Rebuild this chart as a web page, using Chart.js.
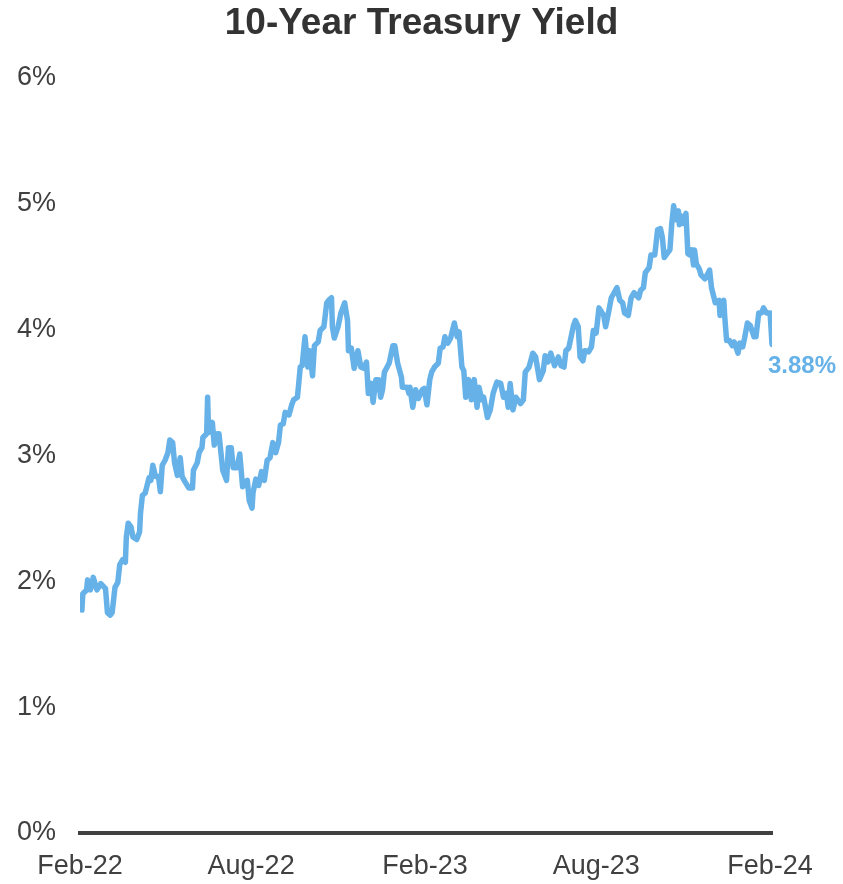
<!DOCTYPE html>
<html>
<head>
<meta charset="utf-8">
<title>10-Year Treasury Yield</title>
<script src="https://cdn.jsdelivr.net/npm/chart.js@4.4.1/dist/chart.umd.min.js"></script>
<style>
	html, body {
		margin: 0;
		padding: 0;
		background: #ffffff;
	}
	#wrap {
		width: 843px;
		height: 884px;
		position: relative;
	}
</style>
</head>
<body>
<div id="wrap"><canvas id="yieldChart"></canvas></div>
<script>
// Days since Feb 1, 2022 and the 10-year yield (%) on those days
const days = [
	2, 3, 7, 8, 11, 14, 18, 22, 27, 29, 32, 34, 37, 40, 42, 45, 48, 49, 51, 54,
	56, 60, 63, 64, 66, 69, 71, 73, 75, 77, 80, 83, 85, 87, 90, 93, 95, 98, 100, 103,
	106, 108, 111, 115, 119, 120, 124, 126, 129, 130, 134, 135, 136, 140, 142, 145, 147, 151, 155, 157,
	160, 162, 166, 169, 172, 174, 177, 179, 182, 183, 186, 189, 192, 195, 198, 201, 204, 207, 210, 212,
	215, 217, 221, 224, 226, 230, 231, 233, 235, 238, 241, 243, 246, 248, 252, 254, 258, 261, 263, 266,
	267, 269, 273, 276, 280, 283, 284, 287, 290, 294, 297, 300, 303, 305, 308, 310, 313, 316, 318, 320,
	322, 327, 331, 333, 336, 340, 341, 346, 348, 349, 352, 355, 358, 362, 364, 367, 370, 372, 375, 379,
	381, 384, 386, 389, 392, 396, 399, 401, 404, 406, 408, 411, 414, 417, 420, 422, 425, 427, 431, 434,
	437, 441, 445, 448, 451, 453, 455, 458, 461, 466, 469, 471, 472, 475, 479, 482, 486, 490, 492, 495,
	498, 502, 506, 509, 512, 514, 517, 522, 524, 527, 529, 532, 534, 538, 541, 543, 546, 549, 554, 556,
	559, 562, 565, 568, 571, 574, 576, 580, 583, 586, 591, 593, 596, 598, 602, 604, 608, 611, 614, 616,
	618, 621, 624, 626, 628, 630, 633, 634, 636, 638, 641, 643, 645, 647, 649, 650, 652, 655, 657, 661,
	664, 666, 668, 670, 672, 676, 677, 681, 682, 684, 687, 690, 692, 696, 698, 701, 703, 706, 709, 713,
	715, 718, 721, 723, 726, 730, 732
];
const yields = [
	1.77, 1.90, 1.93, 2.01, 1.93, 2.03, 1.93, 1.98, 1.94, 1.75, 1.73, 1.75, 1.95, 1.99, 2.13, 2.17, 2.15, 2.35, 2.46, 2.43,
	2.35, 2.33, 2.39, 2.54, 2.68, 2.70, 2.76, 2.82, 2.80, 2.92, 2.83, 2.83, 2.71, 2.92, 2.96, 3.02, 3.12, 3.10, 2.94, 2.84,
	2.98, 2.83, 2.79, 2.74, 2.74, 2.88, 2.94, 3.02, 3.06, 3.14, 3.17, 3.46, 3.18, 3.26, 3.08, 3.17, 3.17, 2.88, 2.80, 3.06,
	3.06, 2.90, 2.90, 3.01, 2.75, 2.78, 2.80, 2.64, 2.58, 2.70, 2.81, 2.76, 2.87, 2.80, 2.96, 2.98, 3.10, 3.02, 3.10, 3.24,
	3.25, 3.34, 3.32, 3.40, 3.44, 3.46, 3.54, 3.70, 3.71, 3.94, 3.70, 3.83, 3.63, 3.87, 3.90, 3.99, 4.02, 4.21, 4.23, 4.25,
	4.02, 3.93, 4.02, 4.13, 4.21, 4.07, 3.83, 3.85, 3.69, 3.83, 3.70, 3.69, 3.74, 3.49, 3.57, 3.42, 3.60, 3.60, 3.46, 3.52,
	3.66, 3.73, 3.87, 3.87, 3.73, 3.62, 3.54, 3.54, 3.49, 3.54, 3.38, 3.52, 3.45, 3.52, 3.53, 3.40, 3.60, 3.66, 3.70, 3.73,
	3.85, 3.86, 3.94, 3.89, 3.93, 4.05, 3.94, 3.98, 3.70, 3.67, 3.46, 3.60, 3.44, 3.60, 3.38, 3.54, 3.44, 3.46, 3.30, 3.36,
	3.49, 3.58, 3.57, 3.46, 3.49, 3.38, 3.57, 3.36, 3.46, 3.41, 3.44, 3.66, 3.67, 3.70, 3.81, 3.78, 3.60, 3.67, 3.79, 3.74,
	3.81, 3.71, 3.78, 3.71, 3.70, 3.83, 3.85, 4.03, 4.07, 4.02, 3.78, 3.75, 3.83, 3.82, 3.86, 3.99, 3.97, 4.17, 4.11, 4.02,
	4.13, 4.25, 4.29, 4.33, 4.23, 4.21, 4.13, 4.11, 4.25, 4.29, 4.25, 4.31, 4.33, 4.45, 4.49, 4.59, 4.59, 4.79, 4.80, 4.73,
	4.57, 4.60, 4.63, 4.84, 4.98, 4.87, 4.94, 4.83, 4.90, 4.84, 4.92, 4.60, 4.59, 4.63, 4.51, 4.63, 4.52, 4.48, 4.43, 4.40,
	4.44, 4.47, 4.33, 4.27, 4.21, 4.23, 4.11, 4.23, 4.10, 3.91, 3.91, 3.87, 3.90, 3.81, 3.89, 3.86, 3.93, 4.05, 4.03, 3.94,
	3.94, 4.13, 4.13, 4.17, 4.13, 4.13, 3.88
];

// x-axis ticks (first of Feb / Aug)
const tickDays = [0, 181, 365, 546, 730];
const tickLabels = ["Feb-22", "Aug-22", "Feb-23", "Aug-23", "Feb-24"];

const lineColor = "#66b2e8";
const textColor = "#404040";
const fontFamily = "'Liberation Sans', Arial, sans-serif";

// label the latest value just below the end of the line
const lastValueLabel = {
	id: "lastValueLabel",
	afterDatasetsDraw(chart) {
		const meta = chart.getDatasetMeta(0);
		const pt = meta.data[meta.data.length - 1];
		const value = yields[yields.length - 1];
		const ctx = chart.ctx;
		ctx.save();
		ctx.font = "bold 24px " + fontFamily;
		ctx.fillStyle = lineColor;
		ctx.textAlign = "left";
		ctx.textBaseline = "middle";
		ctx.fillText(value.toFixed(2) + "%", pt.x - 4, pt.y + 22);
		ctx.restore();
	},
};

const ctx = document.getElementById("yieldChart").getContext("2d");
const yieldChart = new Chart(ctx, {
	type: "line",
	data: {
		datasets: [
			{
				label: "10-Year Treasury Yield",
				data: days.map((d, i) => ({ x: d, y: yields[i] })),
				borderColor: lineColor,
				borderWidth: 5.5,
				pointRadius: 0,
				tension: 0,
				borderJoinStyle: "round",
				borderCapStyle: "round",
			},
		],
	},
	options: {
		responsive: true,
		maintainAspectRatio: false,
		animation: false,
		layout: {
			padding: 0,
		},
		plugins: {
			legend: { display: false },
			tooltip: { enabled: false },
			title: {
				display: true,
				text: "10-Year Treasury Yield",
				color: "#333333",
				font: { family: fontFamily, size: 37, weight: "bold", lineHeight: 1.2 },
				padding: { top: 2, bottom: 31 },
			},
		},
		scales: {
			x: {
				type: "linear",
				min: 0,
				max: 732,
				grid: { display: false, drawTicks: false },
				border: { display: true, color: textColor, width: 4 },
				afterBuildTicks: (scale) => {
					scale.ticks = tickDays.map((v) => ({ value: v }));
				},
				afterFit: (scale) => {
					scale.height = 51;
				},
				ticks: {
					autoSkip: false,
					maxRotation: 0,
					padding: 17,
					color: textColor,
					font: { family: fontFamily, size: 27, lineHeight: 1.2 },
					callback: (value) => tickLabels[tickDays.indexOf(value)],
				},
			},
			y: {
				min: 0,
				max: 6,
				grid: { display: false, drawTicks: false },
				border: { display: false },
				afterFit: (scale) => {
					scale.width = 80;
				},
				ticks: {
					stepSize: 1,
					padding: 24,
					color: textColor,
					font: { family: fontFamily, size: 27 },
					callback: (value) => value + "%",
				},
			},
			// empty right-hand margin that leaves room for the value label
			yRight: {
				position: "right",
				min: 0,
				max: 6,
				grid: { display: false, drawTicks: false },
				border: { display: false },
				ticks: { display: false },
				afterFit: (scale) => {
					scale.width = 71;
				},
			},
		},
	},
	plugins: [lastValueLabel],
});
</script>
</body>
</html>
